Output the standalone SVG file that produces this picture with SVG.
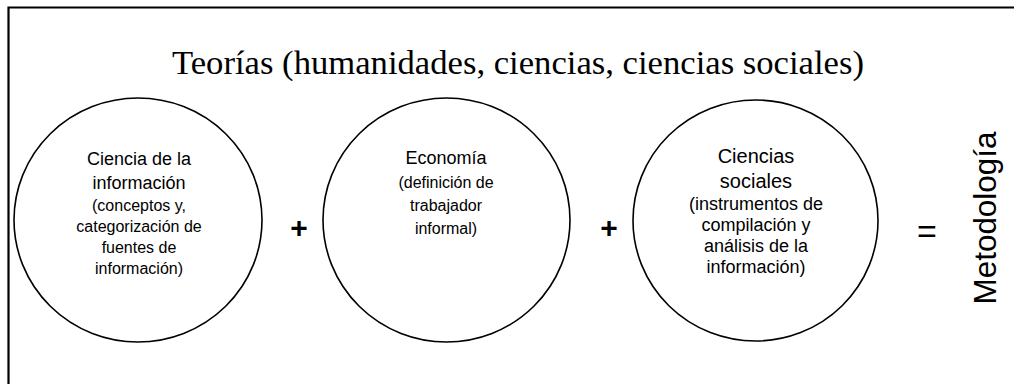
<svg xmlns="http://www.w3.org/2000/svg" width="1014" height="384" viewBox="0 0 1014 384">
<style>
.frame{fill:none;stroke:#000;stroke-width:2.2}
.c{fill:#fff;stroke:#000;stroke-width:1.6}
.t{font-family:"Liberation Sans",Arial,sans-serif;fill:#000;text-anchor:middle}
.h{font-size:18px}
.s{font-size:16px}
.h3{font-size:20px}
.s3{font-size:18px}
.title{font-family:"Liberation Serif","Times New Roman",serif;font-size:33px;fill:#000}
.op{font-family:"Liberation Sans",Arial,sans-serif;font-weight:bold;font-size:30px;text-anchor:middle}
</style>
<rect width="1014" height="384" fill="#fff"/>
<path class="frame" d="M8.5,384 V7.5 H1014"/>
<text class="title" x="172" y="74" textLength="692" lengthAdjust="spacingAndGlyphs">Teorías (humanidades, ciencias, ciencias sociales)</text>
<g id="node-ciencia-informacion">
<ellipse class="c" cx="138" cy="220" rx="124" ry="122"/>
<text class="t h" x="139" y="165">Ciencia de la</text>
<text class="t h" x="139" y="189">información</text>
<text class="t s" x="139" y="211">(conceptos y,</text>
<text class="t s" x="139" y="232">categorización de</text>
<text class="t s" x="139" y="253">fuentes de</text>
<text class="t s" x="139" y="274">información)</text>
</g>
<g id="node-economia">
<ellipse class="c" cx="446.5" cy="220" rx="123.5" ry="122"/>
<text class="t h" x="446" y="164">Economía</text>
<text class="t s" x="446" y="188">(definición de</text>
<text class="t s" x="446" y="211">trabajador</text>
<text class="t s" x="446" y="234">informal)</text>
</g>
<g id="node-ciencias-sociales">
<ellipse class="c" cx="755.5" cy="220.5" rx="122.5" ry="120.5"/>
<text class="t h3" x="756" y="163">Ciencias</text>
<text class="t h3" x="756" y="188">sociales</text>
<text class="t s3" x="756" y="210">(instrumentos de</text>
<text class="t s3" x="756" y="231">compilación y</text>
<text class="t s3" x="756" y="252">análisis de la</text>
<text class="t s3" x="756" y="273">información)</text>
</g>
<g id="connectors">
<text class="op" x="299" y="238">+</text>
<text class="op" x="609" y="238">+</text>
<text class="t" style="font-size:34px" x="927" y="243">=</text>
</g>
<g id="node-metodologia">
<text class="t" style="font-size:32px" transform="translate(996,218) rotate(-90)" x="0" y="0" textLength="173" lengthAdjust="spacingAndGlyphs">Metodología</text>
</g>
</svg>
